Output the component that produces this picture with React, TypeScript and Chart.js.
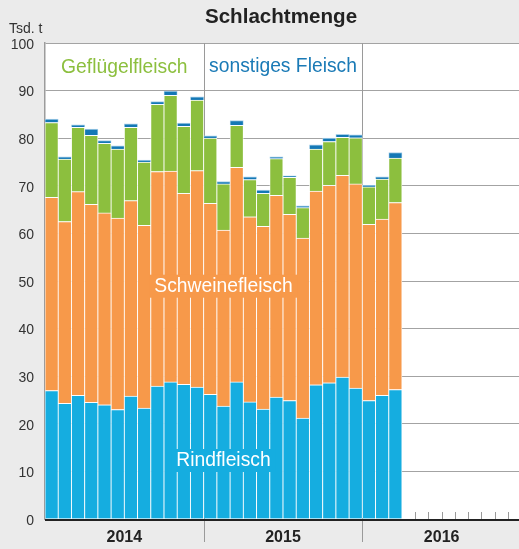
import React, { useEffect, useRef } from "react";
import { Chart, registerables } from "chart.js";

Chart.register(...registerables);

const years = ["2014", "2015", "2016"];
const months = ["Jan", "Feb", "Mär", "Apr", "Mai", "Jun", "Jul", "Aug", "Sep", "Okt", "Nov", "Dez"];
const categories: string[] = years.flatMap((y) => months.map((m) => `${m} ${y}`));

const rindfleisch = [27.0, 24.3, 26.0, 24.5, 24.0, 23.0, 25.8, 23.3, 27.9, 28.8, 28.3, 27.7, 26.2, 23.7, 28.8, 24.6, 23.1, 25.6, 24.9, 21.2, 28.2, 28.6, 29.8, 27.5, 24.9, 26.0, 27.2];
const schweinefleisch = [40.6, 38.2, 42.8, 41.6, 40.3, 40.2, 41.1, 38.4, 45.1, 44.3, 40.1, 45.5, 40.1, 37.0, 45.1, 38.9, 38.4, 42.4, 39.1, 37.8, 40.7, 41.5, 42.4, 42.9, 37.0, 37.0, 39.3];
const gefluegelfleisch = [15.7, 13.1, 13.5, 14.5, 14.6, 14.5, 15.4, 13.3, 14.1, 15.9, 14.1, 14.8, 13.7, 9.7, 8.8, 7.8, 6.9, 7.7, 7.8, 6.4, 8.8, 9.2, 8.0, 9.7, 7.9, 8.4, 9.3];
const sonstigesFleisch = [0.7, 0.5, 0.5, 1.3, 0.6, 0.7, 0.7, 0.4, 0.6, 0.9, 0.7, 0.7, 0.5, 0.5, 1.0, 0.6, 0.7, 0.4, 0.3, 0.4, 0.9, 0.7, 0.6, 0.6, 0.3, 0.5, 1.2];

const yTicks = [0, 10, 20, 30, 40, 50, 60, 70, 80, 90, 100];

const C_RIND = "#15ade0";
const C_SCHWEIN = "#f7994a";
const C_GEFL = "#8cbf3e";
const C_SONST = "#1478b5";
const FONT = '"Liberation Sans", Arial, Helvetica, sans-serif';

const overlay = {
  id: "overlay",
  beforeDraw(chart: any) {
    const { ctx, chartArea: a } = chart;
    ctx.save();
    ctx.fillStyle = "#ffffff";
    ctx.fillRect(a.left, a.top, a.right - a.left, a.bottom - a.top);
    ctx.restore();
  },
  beforeDatasetsDraw(chart: any) {
    const { ctx, chartArea: a } = chart;
    const x = chart.scales.x;
    const bx = (k: number) => (x.getPixelForValue(k - 1) + x.getPixelForValue(k)) / 2;
    ctx.save();
    ctx.strokeStyle = "#9a9a9a";
    ctx.lineWidth = 1;
    [12, 24].forEach((k) => {
      const px = Math.round(bx(k)) + 0.5;
      ctx.beginPath();
      ctx.moveTo(px, a.top);
      ctx.lineTo(px, a.bottom + 23);
      ctx.stroke();
    });
    for (let k = rindfleisch.length + 1; k < categories.length; k++) {
      if (k % 12 === 0) continue;
      const px = Math.round(bx(k)) + 0.5;
      ctx.beginPath();
      ctx.moveTo(px, a.bottom - 7);
      ctx.lineTo(px, a.bottom);
      ctx.stroke();
    }
    ctx.restore();
  },
  afterDraw(chart: any) {
    const { ctx, chartArea: a } = chart;
    const x = chart.scales.x;
    ctx.save();
    // x axis line
    ctx.strokeStyle = "#222222";
    ctx.lineWidth = 2;
    ctx.beginPath();
    ctx.moveTo(a.left, a.bottom + 1);
    ctx.lineTo(a.right, a.bottom + 1);
    ctx.stroke();

    // year labels
    ctx.fillStyle = "#222222";
    ctx.font = `bold 16px ${FONT}`;
    ctx.textAlign = "center";
    ctx.textBaseline = "alphabetic";
    years.forEach((yr, i) => {
      const cx = (x.getPixelForValue(i * 12 + 5) + x.getPixelForValue(i * 12 + 6)) / 2;
      ctx.fillText(yr, cx, a.bottom + 23);
    });

    // title
    ctx.font = `bold 20.6px ${FONT}`;
    ctx.fillStyle = "#222222";
    ctx.fillText("Schlachtmenge", 281, 23.3);

    // unit
    ctx.font = `14px ${FONT}`;
    ctx.fillStyle = "#333333";
    ctx.textAlign = "left";
    ctx.fillText("Tsd. t", 9, 33);

    // legend labels
    ctx.textAlign = "center";
    ctx.font = `19.3px ${FONT}`;
    const c14 = (x.getPixelForValue(5) + x.getPixelForValue(6)) / 2;
    const c15 = (x.getPixelForValue(17) + x.getPixelForValue(18)) / 2;
    ctx.fillStyle = C_GEFL;
    ctx.fillText("Geflügelfleisch", c14, 72.5);
    ctx.fillStyle = "#1a7ab6";
    ctx.fillText("sonstiges Fleisch", c15, 72.3);

    // in-bar labels
    const barsCenter = (x.getPixelForValue(0) + x.getPixelForValue(rindfleisch.length - 1)) / 2;
    const drawLabel = (text: string, base: number, bg: string) => {
      const w = ctx.measureText(text).width;
      ctx.fillStyle = bg;
      ctx.fillRect(barsCenter - w / 2 - 5, base - 17, w + 10, 23);
      ctx.fillStyle = "#ffffff";
      ctx.fillText(text, barsCenter, base);
    };
    drawLabel("Schweinefleisch", 291.7, C_SCHWEIN);
    drawLabel("Rindfleisch", 466, C_RIND);
    ctx.restore();
  },
};

export default function App() {
  const ref = useRef<HTMLCanvasElement | null>(null);
  useEffect(() => {
    if (!ref.current) return;
    const mk = (label: string, data: number[], color: string, border: string) => ({
      label,
      data,
      backgroundColor: color,
      borderColor: border,
      borderWidth: { top: 1, left: 0.8, right: 0.8, bottom: 0 },
      borderSkipped: "start",
      barPercentage: 1,
      categoryPercentage: 1,
      stack: "s",
    });
    const chart = new Chart(ref.current, {
      type: "bar",
      data: {
        labels: categories,
        datasets: [
          mk("Rindfleisch", rindfleisch, C_RIND, "rgba(255,255,255,0.9)"),
          mk("Schweinefleisch", schweinefleisch, C_SCHWEIN, "rgba(255,255,255,0.9)"),
          mk("Geflügelfleisch", gefluegelfleisch, C_GEFL, "rgba(255,255,255,0.9)"),
          mk("sonstiges Fleisch", sonstigesFleisch, C_SONST, "#a8d0ea"),
        ] as any,
      },
      options: {
        responsive: false,
        animation: false,
        devicePixelRatio: 1,
        layout: { padding: { top: 43, bottom: 30, left: 0, right: 0 } },
        plugins: { legend: { display: false }, title: { display: false }, tooltip: { enabled: false } },
        scales: {
          x: { type: "category", stacked: true, display: false, offset: true },
          y: {
            stacked: true,
            min: 0,
            max: 100,
            afterFit: (s: any) => {
              s.width = 45;
            },
            afterBuildTicks: (s: any) => {
              s.ticks = yTicks.map((v) => ({ value: v }));
            },
            ticks: {
              color: "#333333",
              font: { size: 14, family: FONT },
              padding: 11,
              labelOffset: 2,
            },
            grid: { color: "#a3a3a3", lineWidth: 1, drawTicks: false },
            border: { display: true, color: "#9c9c9c", width: 1.5 },
          },
        },
      } as any,
      plugins: [overlay],
    });
    return () => chart.destroy();
  }, []);
  return (
    <div
      style={{
        position: "fixed",
        left: 0,
        top: 0,
        width: 519,
        height: 549,
        overflow: "hidden",
        background: "#ebebeb",
      }}
    >
      <canvas ref={ref} width={521} height={549} style={{ display: "block" }} />
    </div>
  );
}
